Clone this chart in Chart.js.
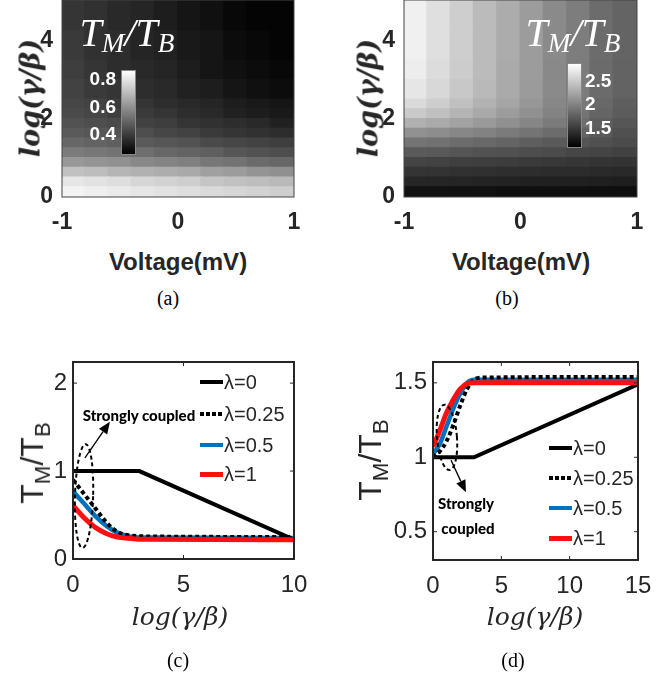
<!DOCTYPE html>
<html><head><meta charset="utf-8">
<script src="https://cdn.jsdelivr.net/npm/chart.js@4.4.0/dist/chart.umd.min.js"></script>
<style>
html,body{margin:0;padding:0;background:#fff;}
#wrap{position:relative;width:672px;height:679px;overflow:hidden;background:#fff;}
canvas{position:absolute;}
.t{position:absolute;white-space:nowrap;transform:translate(-50%,-50%);line-height:1;}
.rot{transform:translate(-50%,-50%) rotate(-90deg);}
.ylh{font-family:'DejaVu Serif',serif;font-style:italic;font-weight:bold;font-size:27px;color:#262626;}
.xlh{font-family:'Liberation Sans',Arial,sans-serif;font-weight:bold;font-size:24px;color:#262626;}
.cap{font-family:'Liberation Serif','Times New Roman',serif;font-size:20px;color:#000;}
.tt{font-family:'Liberation Serif','Times New Roman',serif;font-style:italic;font-size:40px;color:#fff;}
.tt sub{font-size:0.68em;vertical-align:-0.25em;}
.xll{font-family:'DejaVu Serif',serif;font-style:italic;font-size:25px;color:#262626;}
.yll{font-family:'Liberation Sans',Arial,sans-serif;font-size:32px;color:#262626;}
.yll sub{font-size:0.7em;vertical-align:-0.3em;}
.cb{position:absolute;width:15px;height:85px;box-sizing:border-box;border:1px solid #888;background:linear-gradient(#fff,#000);}
.cbl{position:absolute;font-family:'Liberation Sans',Arial,sans-serif;font-weight:bold;font-size:19px;color:#fff;line-height:1;transform:translateY(-50%);}
.sc{font-family:'Lato','Open Sans',sans-serif;font-weight:900;font-size:15px;color:#000;}
.lg{position:absolute;display:flex;align-items:center;font-family:'Liberation Sans',Arial,sans-serif;font-size:20px;color:#262626;line-height:1;transform:translateY(-50%);}
.lg .s{width:23px;margin-right:1px;}
</style></head><body><div id="wrap">
<canvas id="ca" style="left:0;top:0" width="320" height="240"></canvas>
<canvas id="cb" style="left:336px;top:0" width="320" height="240"></canvas>
<canvas id="cc" style="left:0;top:340px" width="320" height="262"></canvas>
<canvas id="cd" style="left:336px;top:340px" width="320" height="262"></canvas>

<div class="t ylh rot" style="left:30px;top:98px">log(γ/β)</div>
<div class="t xlh" style="left:178px;top:262px">Voltage(mV)</div>
<div class="t cap" style="left:168px;top:298px">(a)</div>
<div class="t tt" style="left:127px;top:35px">T<sub>M</sub>/T<sub>B</sub></div>
<div class="cb" style="left:121px;top:70px"></div>
<div id="cblA"></div>

<div class="t ylh rot" style="left:368px;top:98px">log(γ/β)</div>
<div class="t xlh" style="left:521px;top:262px">Voltage(mV)</div>
<div class="t cap" style="left:507px;top:298px">(b)</div>
<div class="t tt" style="left:573px;top:35px">T<sub>M</sub>/T<sub>B</sub></div>
<div class="cb" style="left:567px;top:63px"></div>
<div id="cblB"></div>

<div class="t yll rot" style="left:35px;top:463px">T<sub>M</sub>/T<sub>B</sub></div>
<div class="t xll" style="left:180px;top:616px">log(γ/β)</div>
<div class="t cap" style="left:178px;top:660px">(c)</div>
<div class="t sc" style="left:139px;top:415px">Strongly coupled</div>

<div class="t yll rot" style="left:373px;top:460px">T<sub>M</sub>/T<sub>B</sub></div>
<div class="t xll" style="left:535px;top:616px">log(γ/β)</div>
<div class="t cap" style="left:513px;top:660px">(d)</div>
<div class="t sc" style="left:466px;top:503px">Strongly</div>
<div class="t sc" style="left:468px;top:528px">coupled</div>
<div id="legC"></div><div id="legD"></div>
</div>
<script>
// ---------- DATA ----------
const voltageCenters = [-0.9,-0.7,-0.5,-0.3,-0.1,0.1,0.3,0.5,0.7,0.9];
const logEdges = [0,0.25,0.5,0.75,1,1.25,1.5,1.75,2,2.25,2.5,3,3.5,4.25,5.05];
const voltageTicks = [-1,0,1];
const logTicksHeat = [0,2,4];

// panel (a) T_M/T_B, rows from log=0 upward
const heatA = [
 [.83,.82,.81,.80,.79,.78,.77,.76,.75,.74],
 [.80,.79,.78,.76,.75,.74,.72,.71,.70,.69],
 [.71,.70,.68,.67,.66,.65,.63,.62,.60,.59],
 [.61,.60,.59,.57,.56,.55,.53,.52,.50,.49],
 [.54,.53,.52,.51,.49,.48,.47,.45,.44,.43],
 [.49,.48,.47,.46,.45,.44,.42,.41,.40,.39],
 [.46,.45,.44,.43,.41,.40,.38,.37,.36,.35],
 [.44,.43,.42,.40,.39,.37,.36,.35,.34,.32],
 [.42,.41,.39,.38,.37,.35,.34,.32,.31,.30],
 [.41,.40,.38,.37,.35,.34,.33,.31,.30,.29],
 [.40,.38,.37,.35,.34,.32,.31,.29,.28,.27],
 [.39,.37,.35,.34,.33,.31,.29,.28,.27,.26],
 [.38,.36,.35,.33,.32,.30,.29,.27,.26,.25],
 [.37,.36,.34,.33,.31,.29,.28,.26,.25,.25]
];
const rangeA = [0.24, 0.86];
const cbTicksA = [0.8,0.6,0.4];

// panel (b)
const heatB = [
 [1.18,1.18,1.17,1.17,1.16,1.16,1.16,1.16,1.15,1.15],
 [1.32,1.31,1.31,1.30,1.29,1.28,1.28,1.28,1.27,1.26],
 [1.42,1.41,1.40,1.39,1.38,1.37,1.36,1.36,1.35,1.34],
 [1.53,1.52,1.50,1.49,1.48,1.46,1.45,1.43,1.42,1.41],
 [1.69,1.68,1.65,1.63,1.62,1.60,1.58,1.55,1.53,1.51],
 [1.87,1.85,1.82,1.79,1.76,1.72,1.69,1.65,1.62,1.58],
 [2.08,2.05,2.01,1.97,1.92,1.87,1.82,1.76,1.68,1.62],
 [2.30,2.26,2.20,2.14,2.07,2.00,1.92,1.83,1.72,1.66],
 [2.48,2.41,2.33,2.25,2.16,2.07,1.98,1.87,1.77,1.70],
 [2.60,2.51,2.41,2.31,2.22,2.12,2.01,1.90,1.79,1.72],
 [2.68,2.58,2.47,2.36,2.26,2.15,2.03,1.93,1.81,1.75],
 [2.73,2.61,2.50,2.38,2.26,2.16,2.02,1.93,1.81,1.75],
 [2.75,2.63,2.51,2.38,2.27,2.16,2.03,1.94,1.82,1.76],
 [2.75,2.63,2.51,2.38,2.27,2.16,2.03,1.94,1.82,1.76]
];
const rangeB = [1.05, 2.86];
const cbTicksB = [2.5,2,1.5];

const lambdaLabels = ['λ=0','λ=0.25','λ=0.5','λ=1'];

// panel (c)
const c0x=[0,3,10],                     c0y=[1,1,0.22];
const c25x=[0,0.5,1,1.5,2,2.5,3,4,10],  c25y=[0.90,0.74,0.58,0.42,0.31,0.27,0.26,0.255,0.25];
const c50x=[0,0.5,1,1.5,2,2.5,3,10],    c50y=[0.77,0.63,0.49,0.38,0.30,0.26,0.245,0.24];
const c100x=[0,0.5,1,1.5,2,2.5,3,10],   c100y=[0.61,0.47,0.36,0.29,0.25,0.235,0.225,0.22];
const cXTicks=[0,5,10], cYTicks=[0,1,2];

// panel (d)
const d0x=[0,3,15],                       d0y=[1,1,1.49];
const d25x=[0,0.5,1,1.5,2,2.5,3,3.5,15],  d25y=[1.0,1.04,1.11,1.22,1.35,1.46,1.52,1.535,1.54];
const d50x=[0,0.5,1,1.5,2,2.5,3,15],      d50y=[1.02,1.09,1.21,1.33,1.43,1.50,1.52,1.52];
const d100x=[0,0.5,1,1.5,2,2.5,3,15],     d100y=[1.07,1.18,1.30,1.39,1.46,1.495,1.5,1.5];
const dXTicks=[0,5,10,15], dYTicks=[0.5,1,1.5];

// annotations in data units: [cx, cy, rx, ry, rotation]
const ellipseC=[0.5,0.716,0.41,0.59,0.03];
const arrowC=[0.54,1.15,1.67,1.56];
const ellipseD=[1.02,1.134,0.73,0.22,-0.08];
const arrowD=[1.32,0.98,2.41,0.765];

// ---------- RENDER ----------
const SANS="'Liberation Sans', Arial, sans-serif";
const INK='#262626';
const RED='#ff1010', BLUE='#0072BD';
function gray(v,r){let t=(v-r[0])/(r[1]-r[0]);t=Math.max(0,Math.min(1,t));const g=Math.round(255*t);return `rgb(${g},${g},${g})`;}
function xy(xs,ys){return xs.map((x,i)=>({x,y:ys[i]}));}
function fixTicks(arr){return s=>{s.ticks=arr.map(v=>({value:v}));};}
function noPad(s){s.paddingTop=0;s.paddingBottom=0;s.paddingLeft=0;s.paddingRight=0;}

const boxPlugin={id:'boxp',afterDatasetsDraw(chart,args,o){
  const {ctx,chartArea:a}=chart;ctx.save();
  if(o.inner){const L=4;ctx.strokeStyle=INK;ctx.lineWidth=1;
    chart.scales.x.ticks.forEach(t=>{const p=chart.scales.x.getPixelForValue(t.value);
      ctx.beginPath();ctx.moveTo(p,a.bottom);ctx.lineTo(p,a.bottom-L);ctx.moveTo(p,a.top);ctx.lineTo(p,a.top+L);ctx.stroke();});
    chart.scales.y.ticks.forEach(t=>{const p=chart.scales.y.getPixelForValue(t.value);
      ctx.beginPath();ctx.moveTo(a.left,p);ctx.lineTo(a.left+L,p);ctx.moveTo(a.right,p);ctx.lineTo(a.right-L,p);ctx.stroke();});
  }
  ctx.strokeStyle=o.color||INK;ctx.lineWidth=o.width||1;
  ctx.strokeRect(a.left,a.top,a.width,a.height);
  if(o.ellipse){const [cx,cy,rx,ry,rot]=o.ellipse;const X=chart.scales.x,Y=chart.scales.y;
    const px=X.getPixelForValue(cx),py=Y.getPixelForValue(cy);
    const prx=Math.abs(X.getPixelForValue(cx+rx)-px),pry=Math.abs(Y.getPixelForValue(cy+ry)-py);
    ctx.setLineDash([4,3]);ctx.lineWidth=2;ctx.strokeStyle='#000';ctx.beginPath();ctx.ellipse(px,py,prx,pry,rot,0,2*Math.PI);ctx.stroke();ctx.setLineDash([]);}
  if(o.arrow){const [x1,y1,x2,y2]=o.arrow;const X=chart.scales.x,Y=chart.scales.y;
    const ax=X.getPixelForValue(x1),ay=Y.getPixelForValue(y1),bx=X.getPixelForValue(x2),by=Y.getPixelForValue(y2);
    const ang=Math.atan2(by-ay,bx-ax),hl=12,hw=5;
    ctx.strokeStyle='#000';ctx.fillStyle='#000';ctx.lineWidth=1.3;ctx.beginPath();ctx.moveTo(ax,ay);
    ctx.lineTo(bx-hl*Math.cos(ang),by-hl*Math.sin(ang));ctx.stroke();
    ctx.beginPath();ctx.moveTo(bx,by);
    ctx.lineTo(bx-hl*Math.cos(ang)+hw*Math.sin(ang),by-hl*Math.sin(ang)-hw*Math.cos(ang));
    ctx.lineTo(bx-hl*Math.cos(ang)-hw*Math.sin(ang),by-hl*Math.sin(ang)+hw*Math.cos(ang));
    ctx.closePath();ctx.fill();}
  ctx.restore();}};

function heatChart(id,grid,range,yW,rightPad){
  const datasets=grid.map((row,r)=>({type:'bar',xAxisID:'xc',yAxisID:'y',
    data:row.map(()=>[logEdges[r],logEdges[r+1]]),
    backgroundColor:row.map(v=>gray(v,range)),borderWidth:0,grouped:false,
    barPercentage:1,categoryPercentage:1,inflateAmount:1}));
  return new Chart(document.getElementById(id),{type:'bar',
    data:{labels:voltageCenters.map(String),datasets},
    plugins:[boxPlugin],
    options:{responsive:false,animation:false,devicePixelRatio:1,
      layout:{padding:{top:0,left:0,right:rightPad,bottom:0}},
      plugins:{legend:{display:false},tooltip:{enabled:false},boxp:{color:'#444',width:1}},
      scales:{
        xc:{type:'category',display:false,offset:true},
        x:{type:'linear',position:'bottom',offset:false,min:-1,max:1,afterBuildTicks:fixTicks(voltageTicks),
          afterFit:s=>{noPad(s);s.height=43;},grid:{display:false,drawTicks:false,offset:false},border:{display:false},
          ticks:{padding:12,color:INK,callback:v=>String(v),font:{family:SANS,size:23,weight:'bold'}}},
        y:{type:'linear',min:0,max:5.05,afterBuildTicks:fixTicks(logTicksHeat),
          afterFit:s=>{noPad(s);s.width=yW;},grid:{display:false,drawTicks:false},border:{display:false},
          ticks:{padding:9,color:INK,callback:v=>String(v),font:{family:SANS,size:23,weight:'bold'}}}
      }}});
}
heatChart('ca',heatA,rangeA,62,26);
heatChart('cb',heatB,rangeB,68,19);

function lineChart(id,sets,xr,yr,xt,yt,yW,rightPad,xH,ell,arr){
  const styles=[
    {borderColor:'#000',borderWidth:4,tension:0,order:1},
    {borderColor:'#000',borderWidth:4,borderDash:[4,3],cubicInterpolationMode:'monotone',order:2},
    {borderColor:BLUE,borderWidth:4.5,cubicInterpolationMode:'monotone',order:3},
    {borderColor:RED,borderWidth:5,cubicInterpolationMode:'monotone',order:0}];
  const datasets=sets.map((d,i)=>Object.assign({label:lambdaLabels[i],data:xy(d[0],d[1]),pointRadius:0,fill:false,borderCapStyle:'butt'},styles[i]));
  return new Chart(document.getElementById(id),{type:'line',data:{datasets},plugins:[boxPlugin],
    options:{responsive:false,animation:false,devicePixelRatio:1,
      layout:{padding:{top:22,left:0,right:rightPad,bottom:0}},
      plugins:{legend:{display:false},tooltip:{enabled:false},boxp:{inner:true,width:2,ellipse:ell,arrow:arr}},
      scales:{
        x:{type:'linear',min:xr[0],max:xr[1],afterBuildTicks:fixTicks(xt),afterFit:s=>{noPad(s);s.height=xH;},
          grid:{display:false,drawTicks:false},border:{display:false},
          ticks:{padding:12,color:INK,callback:v=>String(v),font:{family:SANS,size:24}}},
        y:{type:'linear',min:yr[0],max:yr[1],afterBuildTicks:fixTicks(yt),afterFit:s=>{noPad(s);s.width=yW;},
          grid:{display:false,drawTicks:false},border:{display:false},
          ticks:{padding:6,color:INK,callback:v=>String(v),font:{family:SANS,size:24}}}
      }}});
}
lineChart('cc',[[c0x,c0y],[c25x,c25y],[c50x,c50y],[c100x,c100y]],[0,10],[0,2.24],cXTicks,cYTicks,73,26,43,ellipseC,arrowC);
lineChart('cd',[[d0x,d0y],[d25x,d25y],[d50x,d50y],[d100x,d100y]],[0,15],[0.31,1.64],dXTicks,dYTicks,97,18,42,ellipseD,arrowD);

// colorbar labels
function cbLabels(elId,ticks,range,top,h,x,alignRight){
  const el=document.getElementById(elId);
  ticks.forEach(v=>{const d=document.createElement('div');d.className='cbl';d.textContent=String(v);
    const y=top+h-(v-range[0])/(range[1]-range[0])*h;d.style.top=y+'px';
    if(alignRight){d.style.right=(672-x)+'px';}else{d.style.left=x+'px';}
    el.appendChild(d);});
}
cbLabels('cblA',cbTicksA,rangeA,70,85,116,true);
cbLabels('cblB',cbTicksB,rangeB,63,85,585,false);

// legends
function legend(elId,x,ys){
  const el=document.getElementById(elId);
  const samp=[
    'height:4px;background:#000',
    'height:4px;background:repeating-linear-gradient(90deg,#000 0 4px,transparent 4px 6px)',
    'height:4px;background:'+BLUE,
    'height:5px;background:'+RED];
  lambdaLabels.forEach((lab,i)=>{const d=document.createElement('div');d.className='lg';
    d.style.left=x+'px';d.style.top=ys[i]+'px';
    d.innerHTML='<div class="s" style="'+samp[i]+'"></div>';
    const sp=document.createElement('span');sp.textContent=lab;d.appendChild(sp);el.appendChild(d);});
}
legend('legC',200,[382,414,445,474]);
legend('legD',549,[448,478,508,538]);
</script>
</body></html>
